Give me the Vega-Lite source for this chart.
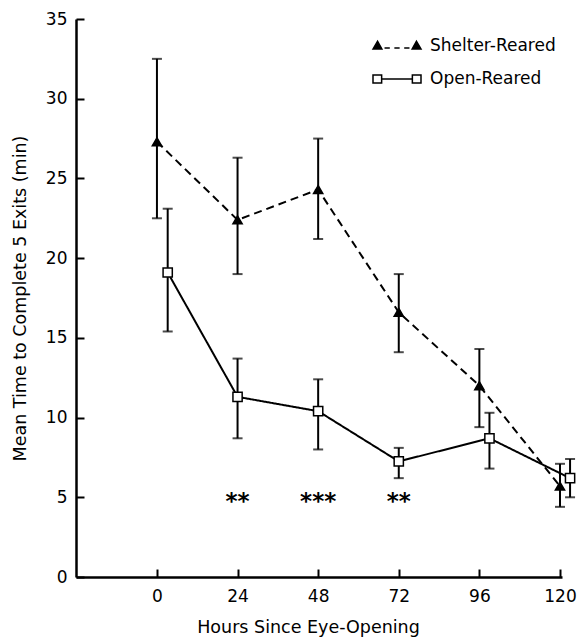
{
  "$schema": "https://vega.github.io/schema/vega-lite/v6.json",
  "width": 486,
  "height": 558,
  "autosize": {"type": "none"},
  "padding": {"left": 76, "top": 19, "right": 17, "bottom": 60},
  "background": "white",
  "config": {
    "view": {"stroke": null},
    "font": "DejaVu Sans",
    "axis": {
      "grid": false,
      "domainColor": "black",
      "domainWidth": 2.5,
      "tickColor": "black",
      "tickWidth": 2,
      "tickSize": -8,
      "labelColor": "black",
      "labelFont": "DejaVu Sans",
      "labelFontSize": 17,
      "titleColor": "black",
      "titleFont": "DejaVu Sans",
      "titleFontSize": 17.5,
      "titleFontWeight": "normal"
    }
  },
  "datasets": {
    "means": [
      {"group": "Shelter-Reared", "hours": 0, "minutes": 27.3, "lo": 22.5, "hi": 32.5},
      {"group": "Shelter-Reared", "hours": 24, "minutes": 22.4, "lo": 19.0, "hi": 26.3},
      {"group": "Shelter-Reared", "hours": 48, "minutes": 24.3, "lo": 21.2, "hi": 27.5},
      {"group": "Shelter-Reared", "hours": 72, "minutes": 16.6, "lo": 14.1, "hi": 19.0},
      {"group": "Shelter-Reared", "hours": 96, "minutes": 12.0, "lo": 9.4, "hi": 14.3},
      {"group": "Shelter-Reared", "hours": 120, "minutes": 5.7, "lo": 4.4, "hi": 7.1},
      {"group": "Open-Reared", "hours": 3.2, "minutes": 19.1, "lo": 15.4, "hi": 23.1},
      {"group": "Open-Reared", "hours": 24, "minutes": 11.3, "lo": 8.7, "hi": 13.7},
      {"group": "Open-Reared", "hours": 48, "minutes": 10.4, "lo": 8.0, "hi": 12.4},
      {"group": "Open-Reared", "hours": 72, "minutes": 7.25, "lo": 6.2, "hi": 8.1},
      {"group": "Open-Reared", "hours": 99, "minutes": 8.7, "lo": 6.8, "hi": 10.3},
      {"group": "Open-Reared", "hours": 123, "minutes": 6.2, "lo": 5.0, "hi": 7.4}
    ],
    "stars": [
      {"hours": 24, "minutes": 5, "label": "**"},
      {"hours": 48, "minutes": 5, "label": "***"},
      {"hours": 72, "minutes": 5, "label": "**"}
    ]
  },
  "data": {"name": "means"},
  "encoding": {
    "x": {
      "field": "hours",
      "type": "quantitative",
      "scale": {"domain": [-24.1, 120.6], "nice": false, "zero": false},
      "axis": {
        "values": [0, 24, 48, 72, 96, 120],
        "labelPadding": 19,
        "title": "Hours Since Eye-Opening",
        "titleX": 232,
        "titleY": 50,
        "titleAlign": "center",
        "titleBaseline": "middle"
      }
    },
    "y": {
      "field": "minutes",
      "type": "quantitative",
      "scale": {"domain": [0, 35], "nice": false},
      "axis": {
        "values": [0, 5, 10, 15, 20, 25, 30, 35],
        "labelPadding": 17,
        "title": "Mean Time to Complete 5 Exits (min)",
        "titleX": -56,
        "titleY": 279,
        "titleAngle": -90,
        "titleAlign": "center",
        "titleBaseline": "middle"
      }
    }
  },
  "resolve": {"scale": {"shape": "independent", "fill": "independent"}},
  "layer": [
    {
      "mark": {"type": "line", "color": "black", "strokeWidth": 2},
      "encoding": {
        "detail": {"field": "group", "type": "nominal"},
        "strokeDash": {
          "field": "group",
          "type": "nominal",
          "scale": {"domain": ["Open-Reared", "Shelter-Reared"], "range": [[1, 0], [8, 5]]},
          "legend": null
        }
      }
    },
    {
      "mark": {"type": "rule", "color": "black", "strokeWidth": 2},
      "encoding": {
        "y": {"field": "lo", "type": "quantitative"},
        "y2": {"field": "hi"}
      }
    },
    {
      "transform": [{"fold": ["lo", "hi"], "as": ["end", "val"]}],
      "mark": {"type": "tick", "orient": "horizontal", "size": 10, "thickness": 2, "color": "black"},
      "encoding": {
        "y": {"field": "val", "type": "quantitative"}
      }
    },
    {
      "mark": {"type": "point", "filled": true, "stroke": "black", "strokeWidth": 1.5, "size": 85, "opacity": 1},
      "encoding": {
        "fill": {
          "field": "group",
          "type": "nominal",
          "scale": {"domain": ["Shelter-Reared", "Open-Reared"], "range": ["black", "white"]},
          "legend": null
        },
        "shape": {
          "field": "group",
          "type": "nominal",
          "scale": {"domain": ["Shelter-Reared", "Open-Reared"], "range": ["triangle-up", "square"]},
          "legend": null
        }
      }
    },
    {
      "transform": [{"filter": "false"}],
      "mark": {"type": "point", "filled": true, "stroke": "black", "strokeWidth": 1.5, "opacity": 1},
      "encoding": {
        "fill": {
          "field": "group",
          "type": "nominal",
          "scale": {"domain": ["Shelter-Reared", "Open-Reared"], "range": ["black", "white"]},
          "legend": {
            "orient": "none",
            "legendX": 296,
            "legendY": 2,
            "title": null,
            "symbolSize": 2304,
            "labelFont": "DejaVu Sans",
            "labelFontSize": 17,
            "labelColor": "black",
            "labelOffset": 8,
            "rowPadding": -23
          }
        },
        "shape": {
          "field": "group",
          "type": "nominal",
          "scale": {
            "domain": ["Shelter-Reared", "Open-Reared"],
            "range": [
              "M-1,0.13L-0.81,-0.2L-0.63,0.13Z M0.63,0.13L0.81,-0.2L1,0.13Z M-0.52,0.08L-0.3,0.08 M-0.11,0.08L0.11,0.08 M0.3,0.08L0.52,0.08",
              "M-1,-0.17L-0.64,-0.17L-0.64,0.17L-1,0.17Z M0.64,-0.17L1,-0.17L1,0.17L0.64,0.17Z M-0.64,0L0.64,0"
            ]
          },
          "legend": {
            "orient": "none",
            "legendX": 296,
            "legendY": 2,
            "title": null,
            "symbolSize": 2304,
            "labelFont": "DejaVu Sans",
            "labelFontSize": 17,
            "labelColor": "black",
            "labelOffset": 8,
            "rowPadding": -23
          }
        }
      }
    },
    {
      "data": {"name": "stars"},
      "mark": {"type": "text", "font": "DejaVu Sans", "fontSize": 23, "fontWeight": "bold", "baseline": "middle", "dy": 5, "color": "black"},
      "encoding": {
        "text": {"field": "label", "type": "nominal"}
      }
    }
  ]
}
